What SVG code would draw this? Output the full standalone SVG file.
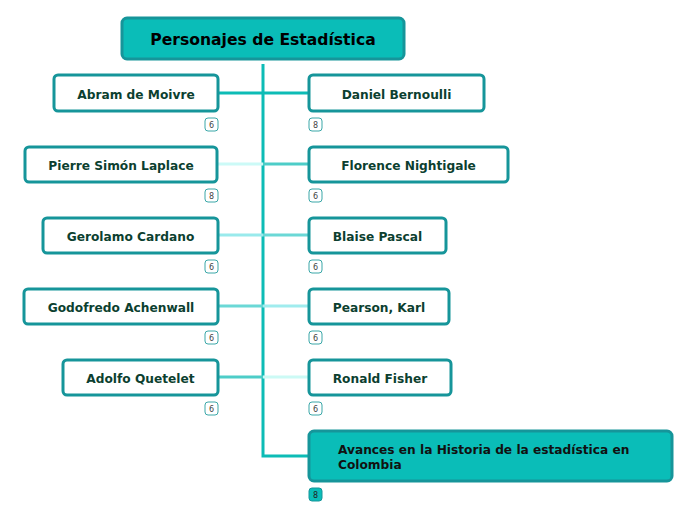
<svg xmlns="http://www.w3.org/2000/svg" width="696" height="520" viewBox="0 0 696 520">
<style>
.n{fill:#fff;stroke:#16959a;stroke-width:3}
.t{font-family:"DejaVu Sans",Verdana,sans-serif;font-weight:bold;font-size:12.2px;fill:#0c3f30;text-anchor:middle}
.b{fill:#fff;stroke:#3aa7a8;stroke-width:1}
.bt{font-family:"DejaVu Sans",sans-serif;font-size:8px;fill:#444;text-anchor:middle}
.c{fill:none;stroke-width:3}
</style>
<rect width="696" height="520" fill="#fff"/>
<g id="connectors">
<path class="c" stroke="#0dbcb6" d="M263 64V456H309"/>
<path class="c" stroke="#0dbcb6" d="M218 93H263"/>
<path class="c" stroke="#0dbcb6" d="M263 93H309"/>
<path class="c" stroke="#ccfaf7" d="M217 164H263"/>
<path class="c" stroke="#4dcdc8" d="M263 164H309"/>
<path class="c" stroke="#99eaec" d="M218 235H263"/>
<path class="c" stroke="#6bd8d6" d="M263 235H309"/>
<path class="c" stroke="#6bd8d6" d="M218 306H263"/>
<path class="c" stroke="#a0ecee" d="M263 306H309"/>
<path class="c" stroke="#4dcdc8" d="M218 377H263"/>
<path class="c" stroke="#ccfaf5" d="M263 377H309"/>
</g>
<g id="root">
<rect x="122" y="18" width="282" height="41" rx="5" fill="#0abdb8" stroke="#16959a" stroke-width="3"/>
<text x="263" y="45" style="font-family:'DejaVu Sans',Verdana,sans-serif;font-weight:bold;font-size:15.6px;fill:#000;text-anchor:middle">Personajes de Estadística</text>
</g>
<g id="abram">
<rect class="n" x="54" y="75" width="164" height="36" rx="4"/>
<text class="t" x="136" y="99">Abram de Moivre</text>
<rect class="b" x="205" y="118" width="13" height="13" rx="3"/><text class="bt" x="211.5" y="127.5">6</text>
</g>
<g id="laplace">
<rect class="n" x="25" y="147" width="192" height="35" rx="4"/>
<text class="t" x="121" y="170">Pierre Simón Laplace</text>
<rect class="b" x="205" y="189" width="13" height="13" rx="3"/><text class="bt" x="211.5" y="198.5">8</text>
</g>
<g id="cardano">
<rect class="n" x="43" y="218" width="175" height="35" rx="4"/>
<text class="t" x="130.5" y="241">Gerolamo Cardano</text>
<rect class="b" x="205" y="260" width="13" height="13" rx="3"/><text class="bt" x="211.5" y="269.5">6</text>
</g>
<g id="achenwall">
<rect class="n" x="24" y="289" width="194" height="35" rx="4"/>
<text class="t" x="121" y="312">Godofredo Achenwall</text>
<rect class="b" x="205" y="331" width="13" height="13" rx="3"/><text class="bt" x="211.5" y="340.5">6</text>
</g>
<g id="quetelet">
<rect class="n" x="63" y="360" width="155" height="35" rx="4"/>
<text class="t" x="140.5" y="383">Adolfo Quetelet</text>
<rect class="b" x="205" y="402" width="13" height="13" rx="3"/><text class="bt" x="211.5" y="411.5">6</text>
</g>
<g id="bernoulli">
<rect class="n" x="309" y="75" width="175" height="36" rx="4"/>
<text class="t" x="396.5" y="99">Daniel Bernoulli</text>
<rect class="b" x="309" y="118" width="13" height="13" rx="3"/><text class="bt" x="315.5" y="127.5">8</text>
</g>
<g id="nightigale">
<rect class="n" x="309" y="147" width="199" height="35" rx="4"/>
<text class="t" x="408.5" y="170">Florence Nightigale</text>
<rect class="b" x="309" y="189" width="13" height="13" rx="3"/><text class="bt" x="315.5" y="198.5">6</text>
</g>
<g id="pascal">
<rect class="n" x="309" y="218" width="137" height="35" rx="4"/>
<text class="t" x="377.5" y="241">Blaise Pascal</text>
<rect class="b" x="309" y="260" width="13" height="13" rx="3"/><text class="bt" x="315.5" y="269.5">6</text>
</g>
<g id="pearson">
<rect class="n" x="309" y="289" width="140" height="35" rx="4"/>
<text class="t" x="379" y="312">Pearson, Karl</text>
<rect class="b" x="309" y="331" width="13" height="13" rx="3"/><text class="bt" x="315.5" y="340.5">6</text>
</g>
<g id="fisher">
<rect class="n" x="309" y="360" width="142" height="35" rx="4"/>
<text class="t" x="380" y="383">Ronald Fisher</text>
<rect class="b" x="309" y="402" width="13" height="13" rx="3"/><text class="bt" x="315.5" y="411.5">6</text>
</g>
<g id="avances">
<rect x="309" y="431" width="363" height="50" rx="5" fill="#0abdb8" stroke="#16959a" stroke-width="3"/>
<text x="338" y="454" style="font-family:'DejaVu Sans',Verdana,sans-serif;font-weight:bold;font-size:12.2px;fill:#111">Avances en la Historia de la estadística en</text>
<text x="338" y="469" style="font-family:'DejaVu Sans',Verdana,sans-serif;font-weight:bold;font-size:12.2px;fill:#111">Colombia</text>
<rect x="309" y="488" width="13" height="13" rx="3" fill="#0abdb8" stroke="#16959a" stroke-width="1"/><text class="bt" x="315.5" y="497.5" style="fill:#222">8</text>
</g>
</svg>
